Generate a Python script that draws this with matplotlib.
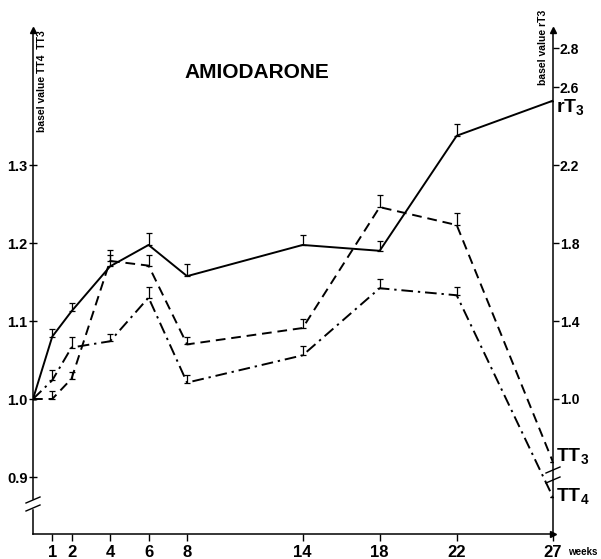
import matplotlib

matplotlib.use("Agg")
import matplotlib.pyplot as plt
from matplotlib.lines import Line2D

plt.rcParams["font.family"] = ["Liberation Sans", "DejaVu Sans"]
plt.rcParams["font.weight"] = "bold"
plt.rcParams["mathtext.fontset"] = "custom"
plt.rcParams["mathtext.rm"] = "Liberation Sans:bold"
plt.rcParams["mathtext.bf"] = "Liberation Sans:bold"

# weeks of treatment
weeks = [0, 1, 2, 4, 6, 8, 14, 18, 22, 27]

# values relative to basal value
tt3 = [1.0, 1.0, 1.026, 1.177, 1.171, 1.070, 1.091, 1.246, 1.223, 0.919]
tt4 = [1.0, 1.024, 1.066, 1.074, 1.130, 1.021, 1.056, 1.142, 1.133, 0.874]
rt3 = [1.0, 1.32, 1.45, 1.68, 1.79, 1.63, 1.79, 1.76, 2.35, 2.53]

# upper error bars (lower side drawn at the mean)
tt3_err = [0, 0.010, 0.009, 0.014, 0.013, 0.010, 0.012, 0.015, 0.015, 0]
tt4_err = [0, 0.013, 0.013, 0.009, 0.013, 0.010, 0.012, 0.012, 0.010, 0]
rt3_err = [0, 0.04, 0.04, 0.06, 0.06, 0.06, 0.05, 0.05, 0.06, 0]

left_ticks = [0.9, 1.0, 1.1, 1.2, 1.3]
right_ticks = [1.0, 1.4, 1.8, 2.2, 2.6, 2.8]
tick_weeks = weeks[1:]

fig = plt.figure(figsize=(6.01, 5.59), dpi=100)
ax = fig.add_axes([33 / 601, 25 / 559, 520 / 601, 504 / 559])
ax2 = ax.twinx()

ylo, yhi = 1.0 - 135 / 780, 1.0 + 369 / 780
ax.set_xlim(0, 27)
ax.set_ylim(ylo, yhi)
ax2.set_ylim(1 + 4 * (ylo - 1), 1 + 4 * (yhi - 1))

lw = 1.4
err_kw = dict(ecolor="black", elinewidth=0.9, capsize=2.2, capthick=0.9)

ax.errorbar(weeks, tt3, yerr=[[0] * len(tt3), tt3_err], color="black",
            linewidth=lw, dashes=(5, 3), **err_kw)
ax.errorbar(weeks, tt4, yerr=[[0] * len(tt4), tt4_err], color="black",
            linewidth=lw, dashes=(6, 2.5, 1.2, 2.5), **err_kw)
ax2.errorbar(weeks, rt3, yerr=[[0] * len(rt3), rt3_err], color="black",
             linewidth=lw, linestyle="-", **err_kw)

for a in (ax, ax2):
    a.spines["top"].set_visible(False)
    for s in a.spines.values():
        s.set_linewidth(1.1)
ax2.spines["left"].set_visible(False)
ax2.spines["bottom"].set_visible(False)
ax.spines["right"].set_visible(False)

ax.set_xticks(tick_weeks)
ax.set_xticklabels([str(w) for w in tick_weeks], fontsize=12, fontweight="bold")
ax.tick_params(axis="x", direction="out", length=5, width=1, pad=3)
ax.set_yticks(left_ticks)
ax.set_yticklabels([f"{v:.1f}" for v in left_ticks], fontsize=10.5,
                   fontweight="bold")
ax.tick_params(axis="y", direction="inout", length=6, width=1, pad=1)
ax2.set_yticks(right_ticks)
ax2.set_yticklabels([f"{v:.1f}" for v in right_ticks], fontsize=10,
                    fontweight="bold")
ax2.tick_params(axis="y", direction="out", length=4, width=1, pad=1)

# arrow heads on the axes
ax.plot([0], [1], marker="^", color="black", markersize=4,
        transform=ax.transAxes, clip_on=False)
ax.plot([1], [1], marker="^", color="black", markersize=4,
        transform=ax.transAxes, clip_on=False)
ax.plot([1], [0], marker=">", color="black", markersize=4,
        transform=ax.transAxes, clip_on=False)


def axis_break(x, y1, y2):
    dx, dy = 7 / 520, 3 / 504
    ax.add_line(Line2D([x, x], [y2 + 0.002, y1 - 0.002], color="white",
                       linewidth=2.5, transform=ax.transAxes, clip_on=False,
                       zorder=5))
    for y in (y1, y2):
        ax.add_line(Line2D([x - dx, x + dx], [y - dy, y + dy], color="black",
                           linewidth=1, transform=ax.transAxes, clip_on=False,
                           zorder=6))


axis_break(0, 34 / 504, 26 / 504)
axis_break(1, 64 / 504, 54 / 504)

ax.text(0.427, (559 - 72) / 559, "AMIODARONE", transform=fig.transFigure,
        ha="center", va="center", fontsize=15, fontweight="bold")
fig.text(42 / 601, 1 - 30 / 559, "basel value TT4  TT3", rotation=90,
         ha="center", va="top", fontsize=7.5, fontweight="bold")
fig.text(543 / 601, 1 - 10 / 559, "basel value rT3", rotation=90,
         ha="center", va="top", fontsize=7.5, fontweight="bold")
fig.text(568 / 601, 1 - 552 / 559, "weeks", ha="left", va="center",
         fontsize=7, fontweight="bold")

ax2.annotate(r"$\mathbf{rT}_{\mathbf{3}}$", xy=(weeks[-1], rt3[-1]),
             xytext=(3, -7), textcoords="offset pixels", ha="left",
             va="center", fontsize=14, annotation_clip=False)
ax.annotate(r"$\mathbf{TT}_{\mathbf{3}}$", xy=(weeks[-1], tt3[-1]),
            xytext=(3, 5), textcoords="offset pixels", ha="left",
            va="center", fontsize=14, annotation_clip=False)
ax.annotate(r"$\mathbf{TT}_{\mathbf{4}}$", xy=(weeks[-1], tt4[-1]),
            xytext=(3, 0), textcoords="offset pixels", ha="left",
            va="center", fontsize=14, annotation_clip=False)

fig.savefig("out.png", dpi=100)
